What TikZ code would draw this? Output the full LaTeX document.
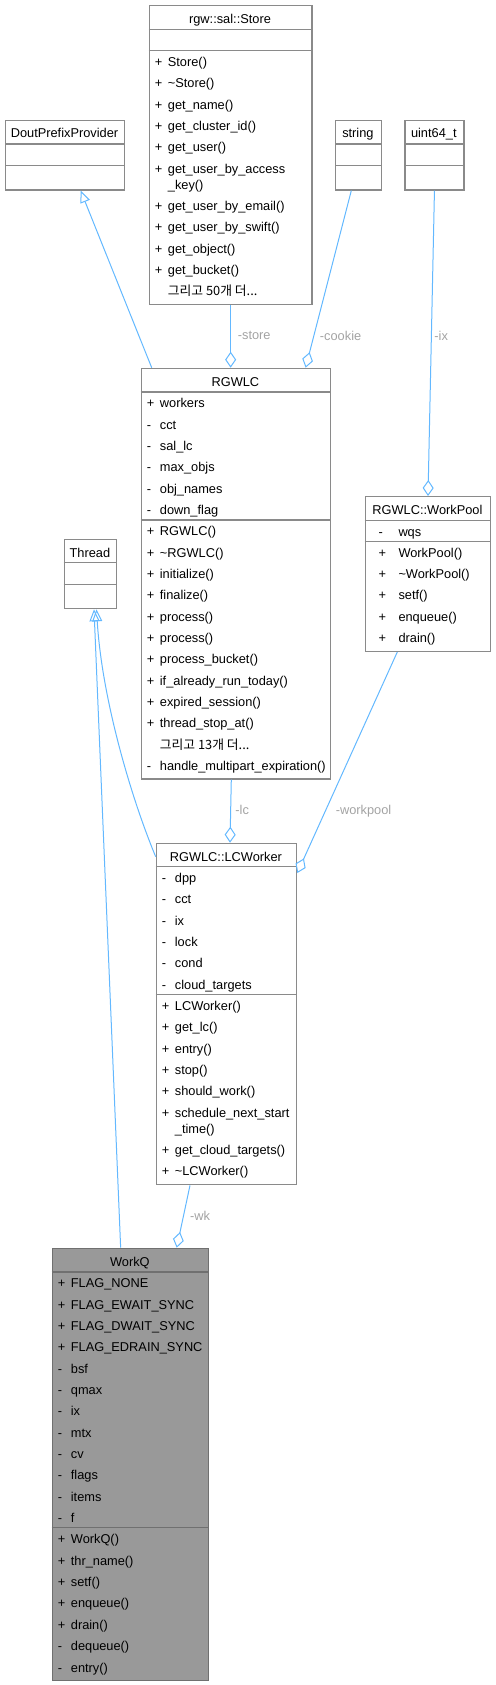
\documentclass[tikz,border=0pt]{standalone}
\usepackage{fontspec}
\setmainfont{Liberation Sans}
\newfontfamily\krfont{Noto Sans CJK KR}
\usepackage{tikz}
\usetikzlibrary{arrows.meta, calc}
\definecolor{dotBlue}{HTML}{63B8FF}
\definecolor{dotGray}{HTML}{8A8A8A}
\definecolor{dotDark}{HTML}{707070}
\definecolor{dotFill}{HTML}{999999}
\definecolor{dotLabel}{HTML}{A3A3A3}

\begin{document}
\begin{tikzpicture}[x=1pt, y=-1pt, font=\fontsize{12.8}{15}\selectfont,
    classbox/.style={draw=dotGray, line width=1.3pt, fill=white, anchor=north west, inner sep=0pt},
    divider/.style={draw=dotGray, line width=1.3pt},
    classtitle/.style={anchor=base, inner sep=0pt},
    member/.style={anchor=base west, inner sep=0pt},
    inheritline/.style={draw=dotBlue, line width=1pt, -{Triangle[open, length=12pt, width=10pt]}},
    aggline/.style={draw=dotBlue, line width=1pt, -{Diamond[open, length=16pt, width=11pt]}},
    rolename/.style={text=dotLabel, anchor=west, inner sep=0pt, text height=9pt, text depth=2.5pt}]
        \useasboundingbox (0,0) rectangle (495,1685);

        % rgw::sal::Store
        \node[classbox, minimum width=162.6pt, minimum height=299pt] (store) at (148.7,5) {};
        \draw[divider] (148.7,29.3) -- (311.3,29.3) (148.7,50.7) -- (311.3,50.7);
        \node[classtitle] (store-title) at (230,23.5) {rgw::sal::Store};
        \foreach \y/\s/\t [count=\i] in
          {66.7/+/Store(), 87.7/+/\textasciitilde Store(), 110/+/get\_name(),
           131/+/get\_cluster\_id(), 152/+/get\_user(), 174/+/get\_user\_by\_access,
           189.7//\_key(), 211/+/get\_user\_by\_email(), 232/+/get\_user\_by\_swift(),
           254/+/get\_object(), 275/+/get\_bucket()}
        {
          \node[member] (store-s\i) at (154.7,\y) {\s};
          \node[member] (store-t\i) at (167.7,\y) {\t};
        }
        \node[member] (store-more) at (167.7,295.7) {\krfont 그리고 50개 더...};

        % DoutPrefixProvider, string, uint64_t
        \node[classbox, minimum width=119pt, minimum height=69.6pt] (dout) at (5,119.7) {};
        \node[classbox, minimum width=45.7pt, minimum height=69.6pt] (string) at (335,119.7) {};
        \node[classbox, minimum width=59pt, minimum height=69.6pt] (uint) at (404.3,119.7) {};
        \foreach \a/\b in {5/124, 335/380.7, 404.3/463.3}
          \draw[divider] (\a,144) -- (\b,144) (\a,165.3) -- (\b,165.3);
        \node[classtitle] (dout-title) at (64.5,138) {DoutPrefixProvider};
        \node[classtitle] (string-title) at (357.9,138) {string};
        \node[classtitle] (uint-title) at (433.8,138) {uint64\_t};

        % RGWLC
        \node[classbox, minimum width=189.3pt, minimum height=410.6pt] (rgwlc) at (140.7,367.7) {};
        \draw[divider] (140.7,392) -- (330,392) (140.7,520) -- (330,520);
        \node[classtitle] (rgwlc-title) at (235.4,386) {RGWLC};
        \foreach \y/\s/\t [count=\i] in
          {407.7/+/workers, 429.3/-/cct, 450.3/-/sal\_lc, 471.7/-/max\_objs,
           493.7/-/obj\_names, 514.7/-/down\_flag, 535.7/+/RGWLC(),
           557.3/+/\textasciitilde RGWLC(), 578.3/+/initialize(), 599.7/+/finalize(),
           621.7/+/process(), 642.7/+/process(), 663.7/+/process\_bucket(),
           685.7/+/if\_already\_run\_today(), 706.7/+/expired\_session(),
           727.7/+/thread\_stop\_at(), 770.7/-/handle\_multipart\_expiration()}
        {
          \node[member] (rgwlc-s\i) at (146.7,\y) {\s};
          \node[member] (rgwlc-t\i) at (159.7,\y) {\t};
        }
        \node[member] (rgwlc-more) at (159.7,749.7) {\krfont 그리고 13개 더...};

        % Thread
        \node[classbox, minimum width=52.3pt, minimum height=69.3pt] (thread) at (63.7,538.7) {};
        \draw[divider] (63.7,562.7) -- (116,562.7) (63.7,584.3) -- (116,584.3);
        \node[classtitle] (thread-title) at (89.9,557) {Thread};

        % RGWLC::WorkPool
        \node[classbox, minimum width=125.3pt, minimum height=154.7pt] (workpool) at (364.7,496) {};
        \draw[divider] (364.7,520.3) -- (490,520.3) (364.7,541.3) -- (490,541.3);
        \node[classtitle] (workpool-title) at (427.4,514.3) {RGWLC::WorkPool};
        \foreach \y/\s/\t [count=\i] in
          {536/-/wqs, 557.3/+/WorkPool(), 578.3/+/\textasciitilde WorkPool(),
           599.7/+/setf(), 621.7/+/enqueue(), 642.7/+/drain()}
        {
          \node[member] (workpool-s\i) at (378.3,\y) {\s};
          \node[member] (workpool-t\i) at (398.3,\y) {\t};
        }

        % RGWLC::LCWorker
        \node[classbox, minimum width=140.3pt, minimum height=341.3pt] (lcworker) at (155.7,842.7) {};
        \draw[divider] (155.7,866.7) -- (296,866.7) (155.7,994.7) -- (296,994.7);
        \node[classtitle] (lcworker-title) at (225.9,861) {RGWLC::LCWorker};
        \foreach \y/\s/\t [count=\i] in
          {882.7/-/dpp, 903.7/-/cct, 925.3/-/ix, 946.3/-/lock, 967.3/-/cond,
           989.3/-/cloud\_targets, 1010.7/+/LCWorker(), 1031.7/+/get\_lc(),
           1053.7/+/entry(), 1074.7/+/stop(), 1095.7/+/should\_work(),
           1117.7/+/schedule\_next\_start, 1133.7//\_time(),
           1154.7/+/get\_cloud\_targets(), 1175.7/+/\textasciitilde LCWorker()}
        {
          \node[member] (lcworker-s\i) at (161.7,\y) {\s};
          \node[member] (lcworker-t\i) at (174.7,\y) {\t};
        }

        % WorkQ
        \node[classbox, draw=dotDark, fill=dotFill, minimum width=156.3pt, minimum height=432.3pt] (workq) at (51.7,1247.7) {};
        \draw[divider, draw=dotDark] (51.7,1272) -- (208,1272) (51.7,1527.3) -- (208,1527.3);
        \node[classtitle] (workq-title) at (129.9,1266) {WorkQ};
        \foreach \y/\s/\t [count=\i] in
          {1287.3/+/FLAG\_NONE, 1309/+/FLAG\_EWAIT\_SYNC, 1330/+/FLAG\_DWAIT\_SYNC,
           1351.3/+/FLAG\_EDRAIN\_SYNC, 1373.3/-/bsf, 1394.7/-/qmax, 1415.7/-/ix,
           1437.7/-/mtx, 1458.7/-/cv, 1479.7/-/flags, 1501.7/-/items, 1522.3/-/f,
           1543.3/+/WorkQ(), 1565.7/+/thr\_name(), 1586.3/+/setf(),
           1607.7/+/enqueue(), 1629.3/+/drain(), 1650.7/-/dequeue(), 1672/-/entry()}
        {
          \node[member] (workq-s\i) at (57.7,\y) {\s};
          \node[member] (workq-t\i) at (70.7,\y) {\t};
        }

        % inheritance
        \draw[inheritline] ($(rgwlc.north west)+(11,0)$) -- ($(dout.south)+(15.5,0)$);
        \draw[inheritline] ($(workq.north)+(-9.85,0)$) -- ($(thread.south)+(3.5,0)$);
        \draw[inheritline] ($(lcworker.north west)+(0,14)$) .. controls (132,800) and (102,700) .. ($(thread.south)+(6,0)$);

        % aggregation
        \draw[aggline] (store.south) -- (store.south |- rgwlc.north)
          node[rolename, pos=0.5, xshift=6.7pt] (store-role) {-store};
        \draw[aggline] ($(string.south)+(-7.2,0)$) -- ($(rgwlc.north east)+(-25.7,0)$)
          node[rolename, pos=0.826, xshift=5.9pt] (cookie-role) {-cookie};
        \draw[aggline] (uint.south) -- (workpool.north)
          node[rolename, pos=0.48, xshift=2.6pt] (ix-role) {-ix};
        \draw[aggline] ($(rgwlc.south)+(-4.7,0)$) -- ($(lcworker.north)+(3.5,0)$)
          node[rolename, pos=0.5, xshift=4.3pt] (lc-role) {-lc};
        \draw[aggline] ($(workpool.south)+(-30.7,0)$) -- ($(lcworker.north east)+(0,30.3)$)
          node[rolename, pos=0.72, xshift=10pt] (workpool-role) {-workpool};
        \draw[aggline] ($(lcworker.south)+(-36.5,0)$) -- ($(workq.north)+(46.2,0)$)
          node[rolename, pos=0.513, xshift=6.5pt] (wk-role) {-wk};
\end{tikzpicture}
\end{document}
